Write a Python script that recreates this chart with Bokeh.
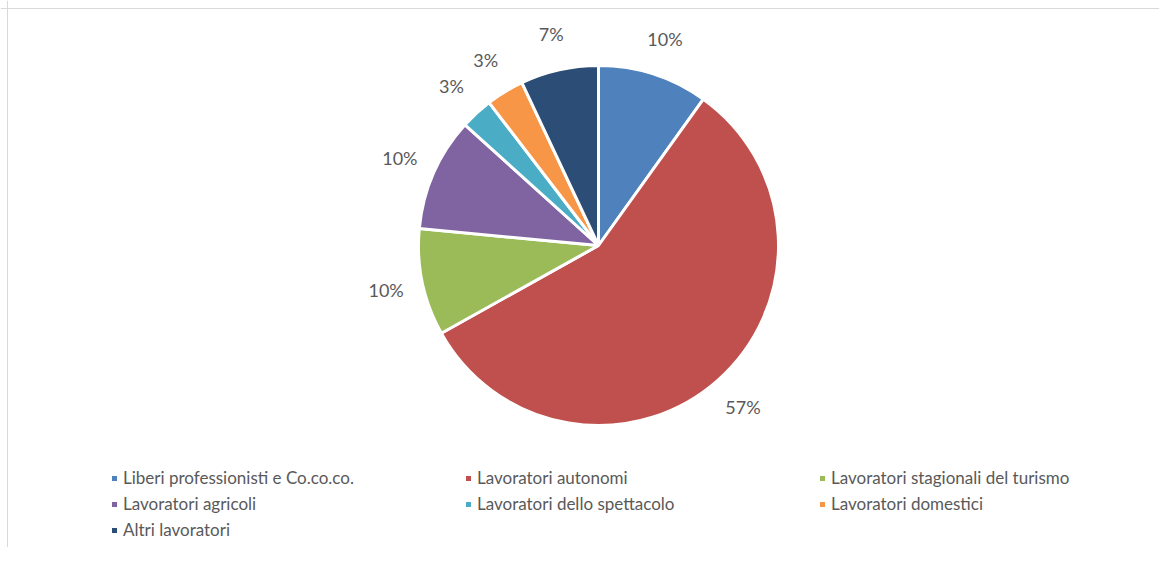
import math
from bokeh.plotting import figure
from bokeh.models import ColumnDataSource, Range1d, Legend, LegendItem, Span
from bokeh.core.properties import value
from bokeh.embed import file_html
from bokeh.resources import INLINE

categories = [
    "Liberi professionisti e Co.co.co.",
    "Lavoratori autonomi",
    "Lavoratori stagionali del turismo",
    "Lavoratori agricoli",
    "Lavoratori dello spettacolo",
    "Lavoratori domestici",
    "Altri lavoratori",
]
shares = [9.9, 57.0, 9.6, 10.2, 2.9, 3.4, 7.0]
colors = ["#4F81BD", "#C0504D", "#9BBB59", "#8064A2", "#4BACC6", "#F79646", "#2C4D75"]

W, H = 1159, 547
CX, CY = 598, H - 245
R = 180
LABEL_R = 217
FONT = "Lato"
TXT = "#595959"

total = sum(shares)
starts, ends, lx, ly, labels = [], [], [], [], []
cum = 0.0
for s in shares:
    a0 = cum / total * 2 * math.pi
    cum += s
    a1 = cum / total * 2 * math.pi
    starts.append(math.pi / 2 - a0)
    ends.append(math.pi / 2 - a1)
    mid = (a0 + a1) / 2
    lx.append(CX + LABEL_R * math.sin(mid))
    ly.append(CY + LABEL_R * math.cos(mid))
    labels.append(f"{round(s / total * 100):d}%")

src = ColumnDataSource(dict(cat=categories, start=starts, end=ends, color=colors,
                            lx=lx, ly=ly, lab=labels,
                            x=[CX] * len(shares), y=[CY] * len(shares)))

p = figure(width=W, height=H, output_backend="svg", toolbar_location=None,
           x_range=Range1d(0, W), y_range=Range1d(0, H), min_border=0,
           match_aspect=False)
p.axis.visible = False
p.grid.visible = False
p.outline_line_color = None
p.background_fill_color = "white"
p.border_fill_color = "white"

r = p.wedge(x="x", y="y", radius=R, start_angle="start", end_angle="end",
            direction="clock", fill_color="color", line_color="white",
            line_width=3, source=src)

p.text(x="lx", y="ly", text="lab", source=src, text_align="center",
       text_baseline="middle", text_font=value(FONT), text_font_size="18px",
       text_color=TXT)

items = [LegendItem(label=c, renderers=[r], index=i) for i, c in enumerate(categories)]
legend = Legend(items=items, location=(109, 7), orientation="horizontal", ncols=3,
                glyph_width=10, glyph_height=10, label_standoff=4,
                label_width=335, label_height=20, spacing=5, padding=0, margin=0,
                border_line_color=None, background_fill_alpha=0,
                label_text_font=FONT, label_text_font_size="17px",
                label_text_color=TXT)
p.add_layout(legend)

p.add_layout(Span(location=7, dimension="height", line_color="#d9d9d9", line_width=1))
p.add_layout(Span(location=H - 8, dimension="width", line_color="#d9d9d9", line_width=1))

open("out.html", "w").write(file_html(p, INLINE))
